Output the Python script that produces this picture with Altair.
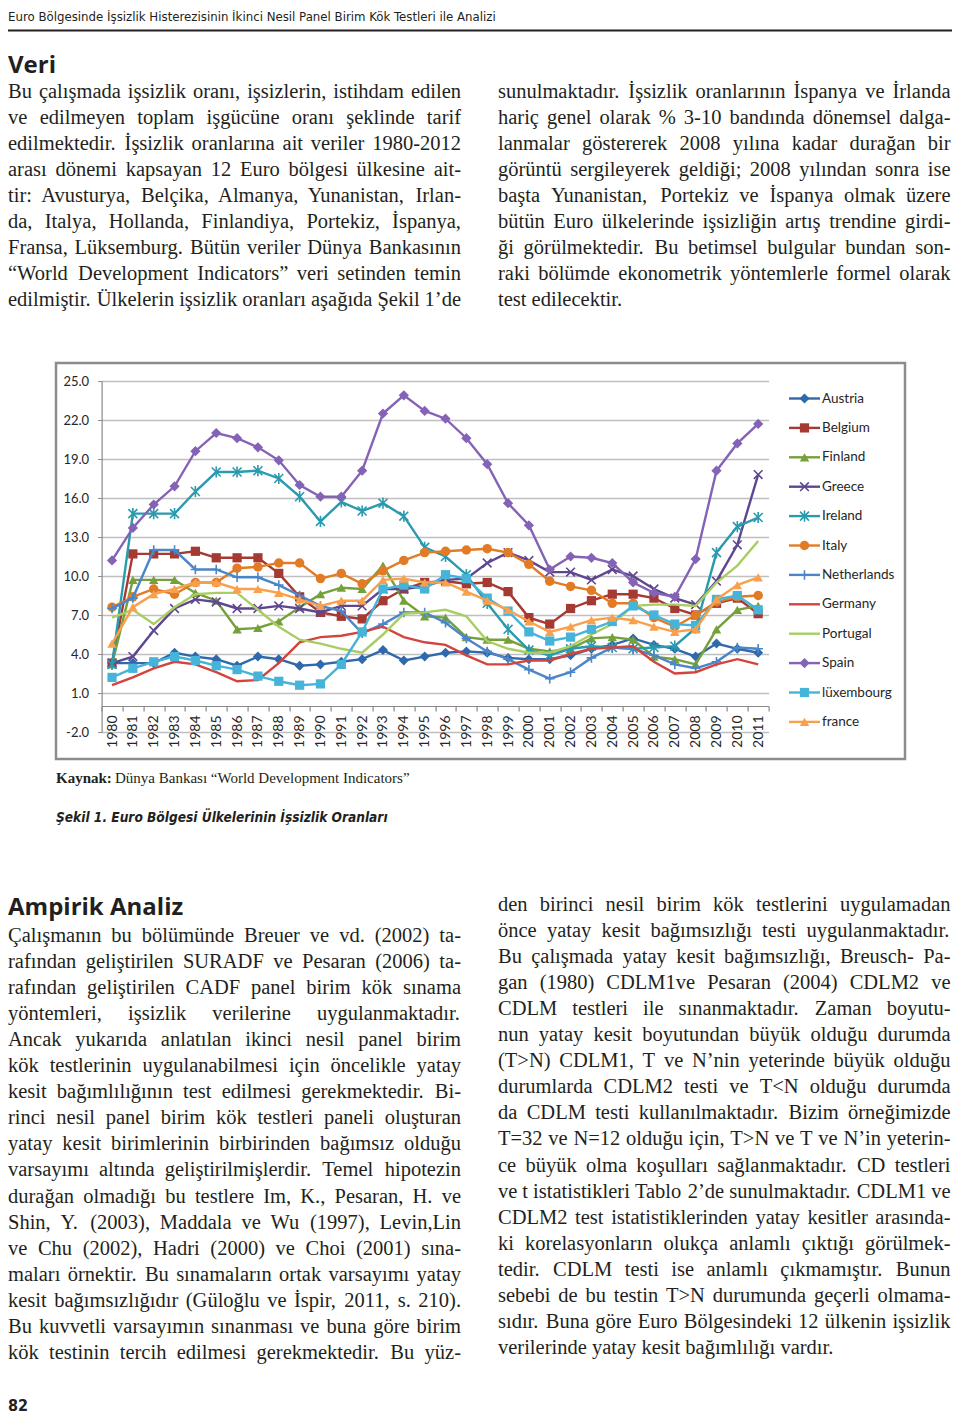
import altair as alt
import pandas as pd

# ---------------- data ----------------
years = list(range(1980, 2012))
countries = ["Austria", "Belgium", "Finland", "Greece", "Ireland", "Italy",
             "Netherlands", "Germany", "Portugal", "Spain", "lüxembourg", "france"]

austria = [3.3, 3.3, 3.3, 4.1, 3.8, 3.6, 3.1, 3.8, 3.6, 3.1, 3.2, 3.4, 3.6, 4.3, 3.5, 3.8,
           4.1, 4.2, 4.1, 3.7, 3.6, 3.6, 3.9, 4.4, 4.7, 5.2, 4.7, 4.4, 3.8, 4.8, 4.4, 4.1]
belgium = [3.3, 11.7, 11.7, 11.7, 11.9, 11.4, 11.4, 11.4, 10.2, 8.4, 7.2, 6.9, 6.7, 8.1, 9.0, 9.5,
           9.6, 9.4, 9.5, 8.8, 6.8, 6.3, 7.5, 8.1, 8.6, 8.6, 8.3, 7.5, 7.0, 7.9, 8.3, 7.1]
finland = [3.2, 9.7, 9.7, 9.7, 8.7, 8.1, 5.9, 6.0, 6.5, 7.6, 8.6, 9.1, 9.0, 10.8, 8.1, 6.9,
           6.8, 5.3, 5.1, 5.1, 4.4, 4.2, 4.4, 5.2, 5.3, 5.1, 3.8, 3.6, 3.2, 5.9, 7.4, 7.7]
greece = [3.3, 3.8, 5.8, 7.5, 8.2, 8.0, 7.5, 7.5, 7.7, 7.5, 7.2, 7.7, 7.7, 9.0, 9.0, 9.2,
          9.7, 9.8, 11.0, 11.8, 11.2, 10.3, 10.3, 9.7, 10.5, 10.0, 9.0, 8.3, 7.8, 9.6, 12.4, 17.8]
ireland = [3.2, 14.8, 14.8, 14.8, 16.5, 18.0, 18.0, 18.1, 17.5, 16.1, 14.2, 15.7, 15.0, 15.6, 14.6, 12.2,
           11.5, 10.1, 7.9, 5.9, 4.3, 3.9, 4.4, 4.6, 4.5, 4.4, 4.5, 4.6, 6.0, 11.8, 13.8, 14.5]
italy = [7.6, 8.4, 9.0, 8.6, 9.5, 9.5, 10.6, 10.7, 11.0, 11.0, 9.8, 10.2, 9.4, 10.4, 11.2, 11.8,
         11.9, 12.0, 12.1, 11.8, 10.9, 9.6, 9.2, 8.9, 7.9, 7.9, 6.8, 6.1, 7.0, 8.0, 8.4, 8.5]
netherlands = [7.5, 8.3, 12.0, 12.0, 10.5, 10.5, 9.9, 9.9, 9.3, 8.5, 7.7, 7.3, 5.6, 6.3, 7.2, 7.2,
               6.4, 5.2, 4.2, 3.6, 2.8, 2.1, 2.6, 3.7, 4.5, 4.4, 3.9, 3.2, 2.9, 3.4, 4.5, 4.4]
germany = [1.6, 2.2, 2.9, 3.4, 3.2, 2.6, 1.9, 2.0, 3.3, 4.9, 5.3, 5.4, 5.7, 6.1, 5.3, 4.9,
           4.7, 3.9, 3.2, 3.2, 3.5, 3.5, 4.0, 4.4, 4.5, 4.6, 3.4, 2.5, 2.6, 3.2, 3.6, 3.2]
portugal = [6.8, 7.4, 6.3, 7.6, 8.6, 8.7, 8.7, 7.4, 6.1, 5.1, 4.8, 4.4, 4.1, 5.5, 7.1, 7.2,
            7.4, 6.9, 5.0, 4.4, 4.1, 4.1, 4.6, 5.5, 6.3, 7.7, 7.8, 7.8, 7.7, 9.5, 10.8, 12.7]
spain = [11.2, 13.7, 15.5, 16.9, 19.6, 21.0, 20.6, 19.9, 18.9, 17.0, 16.1, 16.1, 18.1, 22.5, 23.9, 22.7,
         22.1, 20.6, 18.6, 15.6, 13.9, 10.5, 11.5, 11.4, 11.0, 9.5, 8.7, 8.4, 11.3, 18.1, 20.2, 21.7]
luxembourg = [2.2, 2.9, 3.4, 3.8, 3.5, 3.1, 2.8, 2.3, 1.9, 1.6, 1.7, 3.2, 5.7, 9.0, 9.3, 9.0,
              10.1, 9.8, 8.3, 7.3, 5.7, 5.0, 5.3, 5.9, 6.5, 7.7, 7.0, 6.3, 6.2, 8.2, 8.5, 7.4]
france = [4.8, 7.6, 8.6, 9.0, 9.5, 9.5, 9.0, 9.0, 8.7, 8.2, 7.7, 8.1, 8.1, 9.7, 9.8, 9.5,
          9.5, 8.8, 8.1, 7.4, 6.5, 5.7, 6.1, 6.6, 6.8, 6.6, 6.1, 5.7, 5.9, 8.2, 9.3, 9.9]

series = [austria, belgium, finland, greece, ireland, italy,
          netherlands, germany, portugal, spain, luxembourg, france]
y_ticks = [-2, 1, 4, 7, 10, 13, 16, 19, 22, 25]

# ---------------- page text ----------------
header_text = "Euro Bölgesinde İşsizlik Histerezisinin İkinci Nesil Panel Birim Kök Testleri ile Analizi"
head1 = "Veri"
top_left = [
    "Bu çalışmada işsizlik oranı, işsizlerin, istihdam edilen",
    "ve edilmeyen toplam işgücüne oranı şeklinde tarif",
    "edilmektedir. İşsizlik oranlarına ait veriler 1980-2012",
    "arası dönemi kapsayan 12 Euro bölgesi ülkesine ait-",
    "tir: Avusturya, Belçika, Almanya, Yunanistan, Irlan-",
    "da, Italya, Hollanda, Finlandiya, Portekiz, İspanya,",
    "Fransa, Lüksemburg. Bütün veriler Dünya Bankasının",
    "“World Development Indicators” veri setinden temin",
    "edilmiştir. Ülkelerin işsizlik oranları aşağıda Şekil 1’de",
]
top_right = [
    "sunulmaktadır. İşsizlik oranlarının İspanya ve İrlanda",
    "hariç genel olarak % 3-10 bandında dönemsel dalga-",
    "lanmalar göstererek 2008 yılına kadar durağan bir",
    "görüntü sergileyerek geldiği; 2008 yılından sonra ise",
    "başta Yunanistan, Portekiz ve İspanya olmak üzere",
    "bütün Euro ülkelerinde işsizliğin artış trendine girdi-",
    "ği görülmektedir. Bu betimsel bulgular bundan son-",
    "raki bölümde ekonometrik yöntemlerle formel olarak",
    "test edilecektir.",
]
source_bold = "Kaynak:"
source_rest = "Dünya Bankası “World Development Indicators”"
caption = "Şekil 1. Euro Bölgesi Ülkelerinin İşsizlik Oranları"
head2 = "Ampirik Analiz"
bottom_left = [
    "Çalışmanın bu bölümünde Breuer ve vd. (2002) ta-",
    "rafından geliştirilen SURADF ve Pesaran (2006) ta-",
    "rafından geliştirilen CADF panel birim kök sınama",
    "yöntemleri, işsizlik verilerine uygulanmaktadır.",
    "Ancak yukarıda anlatılan ikinci nesil panel birim",
    "kök testlerinin uygulanabilmesi için öncelikle yatay",
    "kesit bağımlılığının test edilmesi gerekmektedir. Bi-",
    "rinci nesil panel birim kök testleri paneli oluşturan",
    "yatay kesit birimlerinin birbirinden bağımsız olduğu",
    "varsayımı altında geliştirilmişlerdir. Temel hipotezin",
    "durağan olmadığı bu testlere Im, K., Pesaran, H. ve",
    "Shin, Y. (2003), Maddala ve Wu (1997), Levin,Lin",
    "ve Chu (2002), Hadri (2000) ve Choi (2001) sına-",
    "maları örnektir. Bu sınamaların ortak varsayımı yatay",
    "kesit bağımsızlığıdır (Güloğlu ve İspir, 2011, s. 210).",
    "Bu kuvvetli varsayımın sınanması ve buna göre birim",
    "kök testinin tercih edilmesi gerekmektedir. Bu yüz-",
]
bottom_right = [
    "den birinci nesil birim kök testlerini uygulamadan",
    "önce yatay kesit bağımsızlığı testi uygulanmaktadır.",
    "Bu çalışmada yatay kesit bağımsızlığı, Breusch- Pa-",
    "gan (1980) CDLM1ve Pesaran (2004) CDLM2 ve",
    "CDLM testleri ile sınanmaktadır. Zaman boyutu-",
    "nun yatay kesit boyutundan büyük olduğu durumda",
    "(T>N) CDLM1, T ve N’nin yeterinde büyük olduğu",
    "durumlarda CDLM2 testi ve T<N olduğu durumda",
    "da CDLM testi kullanılmaktadır. Bizim örneğimizde",
    "T=32 ve N=12 olduğu için, T>N ve T ve N’in yeterin-",
    "ce büyük olma koşulları sağlanmaktadır. CD testleri",
    "ve t istatistikleri Tablo 2’de sunulmaktadır. CDLM1 ve",
    "CDLM2 test istatistiklerinden yatay kesitler arasında-",
    "ki korelasyonların olukça anlamlı çıktığı görülmek-",
    "tedir. CDLM testi ise anlamlı çıkmamıştır. Bunun",
    "sebebi de bu testin T>N durumunda geçerli olmama-",
    "sıdır. Buna göre Euro Bölgesindeki 12 ülkenin işsizlik",
    "verilerinde yatay kesit bağımlılığı vardır.",
]
page_no = "82"

# ---------------- styles ----------------
colors = ["#2f68ad", "#a53a33", "#76a03a", "#5f4690", "#2a9aae", "#e27b25",
          "#4a86c8", "#d2443d", "#a9cd62", "#8462b6", "#46b4d8", "#f9a04c"]
X_PATH = "M-1,-1L1,1M-1,1L1,-1"
STAR_PATH = "M-1,-1L1,1M-1,1L1,-1M0,-1.25L0,1.25"
PLUS_PATH = "M-1.1,0L1.1,0M0,-1.1L0,1.1"
markers = {
    "Austria": ("diamond", True, 100),
    "Belgium": ("square", True, 85),
    "Finland": ("triangle-up", True, 90),
    "Greece": (X_PATH, False, 75),
    "Ireland": (STAR_PATH, False, 80),
    "Italy": ("circle", True, 90),
    "Netherlands": (PLUS_PATH, False, 75),
    "Spain": ("diamond", True, 105),
    "lüxembourg": ("square", True, 85),
    "france": ("triangle-up", True, 90),
}

SERIF = "Liberation Serif"
SANS_B = "Open Sans"
NARROW = "Liberation Sans Narrow, DejaVu Sans Condensed, sans-serif"
CHART_FONT = "Lato"
INK = "#231f20"

W, H = 667, 351
OX, OY = 101.6, 381.0          # page position of the plot origin
PAGE_W, PAGE_H = 944, 1407


def rx(x):
    return x - OX


def ry(y):
    return y - OY


one = pd.DataFrame({"k": [0]})


def text_block(s, x, y, size, font, weight="normal", style="normal",
               color=INK, lh=None, align="left", baseline="alphabetic"):
    kw = dict(align=align, baseline=baseline, font=font, fontSize=size,
              fontWeight=weight, fontStyle=style, color=color)
    if lh is not None:
        kw.update(lineBreak="\n", lineHeight=lh)
    return alt.Chart(one).mark_text(**kw).encode(
        x=alt.value(rx(x)), y=alt.value(ry(y)), text=alt.value(s))


# Times / Liberation Serif advance widths (per 1000 em) for justified typesetting
_w = {}
_w.update({c: 444 for c in "acezçş"})
_w.update({c: 500 for c in "bdghknopquvxyğöü0123456789"})
_w.update({c: 278 for c in "ijltı:;"})
_w.update({c: 333 for c in "fr-()’İI"})
_w.update({"s": 389, "ş": 389, "m": 778, "w": 722, ".": 250, ",": 250, " ": 250,
           "“": 444, "”": 444, "%": 833, "=": 564, ">": 564, "<": 564, "J": 389,
           "M": 889, "W": 944})
_w.update({c: 722 for c in "ADGHKNOQUVXYÜÖ"})
_w.update({c: 667 for c in "BCRÇ"})
_w.update({c: 611 for c in "ELTZ"})
_w.update({c: 556 for c in "FPSŞ"})


def word_width(s, size):
    return sum(_w.get(ch, 500) for ch in s) * size / 1000.0


def justified(lines, x0, x1, y0, lh, size, last_justified):
    rows = []
    for i, line in enumerate(lines):
        words = line.split(" ")
        natural = sum(word_width(w, size) for w in words)
        gaps = len(words) - 1
        do_just = gaps > 0 and (i < len(lines) - 1 or last_justified)
        gap = (x1 - x0 - natural) / gaps if do_just else 0.25 * size
        x = x0
        for w in words:
            rows.append({"t": w, "px": rx(x), "py": ry(y0 + i * lh)})
            x += word_width(w, size) + gap
    return alt.Chart(pd.DataFrame(rows)).mark_text(
        align="left", baseline="alphabetic", font=SERIF, fontSize=size, color=INK).encode(
        x=alt.X("px:Q", scale=None, axis=None),
        y=alt.Y("py:Q", scale=None, axis=None),
        text="t:N")


layers = []

# chart frame (unfilled so the axes behind the marks stay visible)
layers.append(alt.Chart(one).mark_rect(fillOpacity=0, stroke="#8c8c8c", strokeWidth=2.5).encode(
    x=alt.value(rx(56)), x2=alt.value(rx(905)), y=alt.value(ry(363)), y2=alt.value(ry(759))))

# header + rule
layers.append(text_block(header_text, 8, 20.5, 13.1, NARROW))
layers.append(alt.Chart(one).mark_rule(color=INK, strokeWidth=2).encode(
    x=alt.value(rx(8)), x2=alt.value(rx(952)), y=alt.value(ry(30.5))))

BODY = 20.5
LH = 26.05
L0, L1 = 8, 461
R0, R1 = 498, 950.5
layers.append(text_block(head1, 8, 73, 24, SANS_B, weight="bold"))
layers.append(justified(top_left, L0, L1, 98, LH, BODY, True))
layers.append(justified(top_right, R0, R1, 98, LH, BODY, False))

layers.append(text_block(source_bold, 56, 783, 15, SERIF, weight="bold"))
layers.append(text_block(source_rest, 115, 783, 15, SERIF))
layers.append(text_block(caption, 56, 822, 13.6, NARROW, weight="bold", style="italic"))

layers.append(text_block(head2, 8, 915, 24, SANS_B, weight="bold"))
layers.append(justified(bottom_left, L0, L1, 942, LH, BODY, True))
layers.append(justified(bottom_right, R0, R1, 911, LH, BODY, False))
layers.append(text_block(page_no, 8, 1411, 16, NARROW, weight="bold"))

# ---------------- series ----------------
rows = []
for c, vals in zip(countries, series):
    for yr, v in zip(years, vals):
        rows.append({"year": yr, "country": c, "value": v})
df = pd.DataFrame(rows)

color_scale = alt.Scale(domain=countries, range=colors)
axis_offset = -(0 - y_ticks[0]) * H / (y_ticks[-1] - y_ticks[0])

X = alt.X("year:O",
          scale=alt.Scale(type="band", paddingInner=0, paddingOuter=0),
          bandPosition=0.5,
          axis=alt.Axis(title=None, labelAngle=270, labelFont=CHART_FONT, labelFontSize=14,
                        labelColor="#262626", tickBand="extent", tickSize=5, tickColor="#8a8a8a",
                        tickWidth=1.2, domainColor="#8a8a8a", domainWidth=1.2, labelPadding=4,
                        offset=axis_offset, grid=False, labelOverlap=False))
Y = alt.Y("value:Q",
          scale=alt.Scale(domain=[y_ticks[0], y_ticks[-1]], nice=False, zero=False),
          axis=alt.Axis(title=None, values=y_ticks,
                        labelExpr="datum.value < 0 ? '-' + format(-datum.value, '.1f') : format(datum.value, '.1f')",
                        labelFont=CHART_FONT, labelFontSize=13, labelColor="#262626",
                        grid=True, gridColor="#bfbfbf", gridWidth=1.5,
                        tickSize=4, tickColor="#8a8a8a", domainColor="#8a8a8a",
                        domainWidth=1.2, labelPadding=9))
C = alt.Color("country:N", scale=color_scale, legend=None)

base = alt.Chart(df)
for c in countries:
    sub = base.transform_filter(alt.datum.country == c)
    layers.append(sub.mark_line(strokeWidth=2.4).encode(x=X, y=Y, color=C))
    if c in markers:
        shp, filled, size = markers[c]
        layers.append(sub.mark_point(shape=shp, filled=filled, size=size, strokeWidth=1.6,
                                     opacity=1).encode(x=X, y=Y, color=C))

# ---------------- legend ----------------
LEG_Y0, LEG_DY = 398.5, 29.4
for i, c in enumerate(countries):
    yy = LEG_Y0 + i * LEG_DY
    col = colors[i]
    layers.append(alt.Chart(one).mark_rule(color=col, strokeWidth=2.4).encode(
        x=alt.value(rx(789)), x2=alt.value(rx(820)), y=alt.value(ry(yy))))
    if c in markers:
        shp, filled, size = markers[c]
        layers.append(alt.Chart(one).mark_point(shape=shp, filled=filled, size=size, strokeWidth=1.6,
                                                color=col, opacity=1).encode(
            x=alt.value(rx(804.5)), y=alt.value(ry(yy))))
    layers.append(alt.Chart(one).mark_text(align="left", baseline="middle", font=CHART_FONT,
                                           fontSize=13.5, color="#262626").encode(
        x=alt.value(rx(822)), y=alt.value(ry(yy)), text=alt.value(c)))

chart = alt.layer(*layers).properties(
    width=W, height=H,
    autosize=alt.AutoSizeParams(type="none"),
    padding={"left": OX - 8, "top": OY - 8,
             "right": PAGE_W - (OX - 8) - W, "bottom": PAGE_H - (OY - 8) - H},
).configure_view(stroke="transparent")

chart.save("out.html", embed_options={"renderer": "svg", "actions": False})
